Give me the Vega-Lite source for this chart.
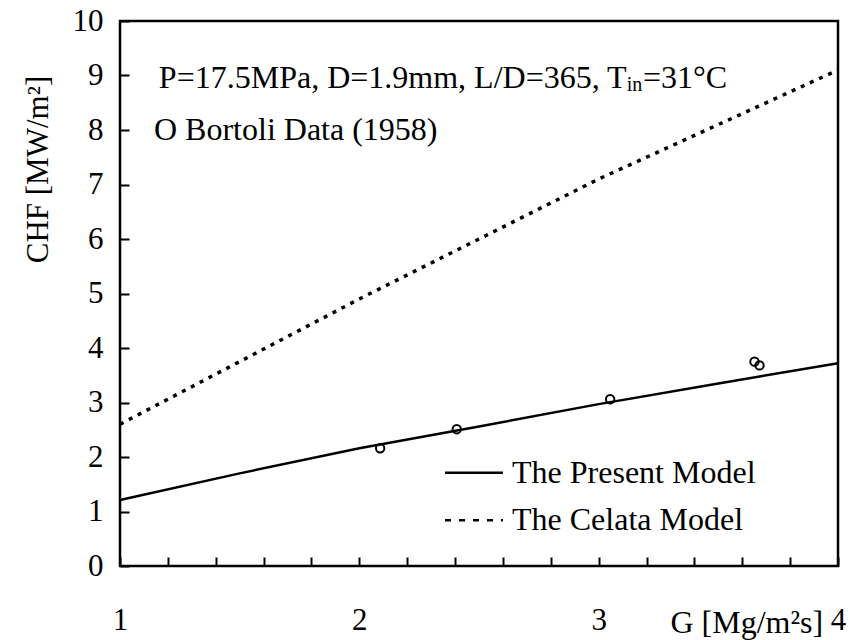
{
  "$schema": "https://vega.github.io/schema/vega-lite/v6.json",
  "width": 718,
  "height": 545,
  "autosize": {"type": "none"},
  "padding": {"left": 120, "top": 21, "right": 13, "bottom": 74},
  "background": "white",
  "config": {
    "view": {"stroke": "black", "strokeWidth": 2.5},
    "font": "Liberation Serif",
    "axis": {
      "grid": false,
      "domain": false,
      "tickColor": "black",
      "tickWidth": 2,
      "tickSize": -9,
      "labelColor": "black",
      "labelFont": "Liberation Serif",
      "labelFontSize": 31,
      "labelFontWeight": "normal",
      "titleColor": "black",
      "titleFont": "Liberation Serif",
      "titleFontSize": 31,
      "titleFontWeight": "normal"
    }
  },
  "datasets": {
    "present": [
      {"G": 1.0, "CHF": 1.21},
      {"G": 1.5, "CHF": 1.70},
      {"G": 2.0, "CHF": 2.16},
      {"G": 2.5, "CHF": 2.56},
      {"G": 3.0, "CHF": 2.97},
      {"G": 3.5, "CHF": 3.35},
      {"G": 4.0, "CHF": 3.72}
    ],
    "celata": [
      {"G": 1.0, "CHF": 2.60},
      {"G": 1.5, "CHF": 3.75},
      {"G": 2.0, "CHF": 4.90},
      {"G": 2.5, "CHF": 6.00},
      {"G": 3.0, "CHF": 7.10},
      {"G": 3.5, "CHF": 8.10},
      {"G": 4.0, "CHF": 9.10}
    ],
    "bortoli": [
      {"G": 2.087, "CHF": 2.16},
      {"G": 2.407, "CHF": 2.51},
      {"G": 3.048, "CHF": 3.06},
      {"G": 3.651, "CHF": 3.75},
      {"G": 3.672, "CHF": 3.68}
    ],
    "one": [{}]
  },
  "layer": [
    {
      "data": {"name": "celata"},
      "mark": {"type": "line", "color": "black", "strokeWidth": 3.5, "strokeDash": [4, 6], "clip": true},
      "encoding": {
        "x": {
          "field": "G", "type": "quantitative",
          "scale": {"domain": [1, 4], "nice": false, "zero": false},
          "axis": {
            "title": "G [Mg/m²s]",
            "values": [1, 1.2, 1.4, 1.6, 1.8, 2, 2.2, 2.4, 2.6, 2.8, 3, 3.2, 3.4, 3.6, 3.8, 4],
            "labelExpr": "abs(datum.value - round(datum.value)) < 0.001 ? format(datum.value, 'd') : ''",
            "labelFlush": false,
            "labelOverlap": false,
            "labelPadding": 63,
            "labelBaseline": "middle",
            "titleFontSize": 32,
            "titleX": 550,
            "titleY": 56,
            "titleAlign": "left",
            "titleBaseline": "middle"
          }
        },
        "y": {
          "field": "CHF", "type": "quantitative",
          "scale": {"domain": [0, 10], "nice": false},
          "axis": {
            "title": "CHF [MW/m²]",
            "values": [0, 1, 2, 3, 4, 5, 6, 7, 8, 9, 10],
            "labelPadding": 26,
            "titleX": -82,
            "titleY": 148,
            "titleAngle": 270,
            "titleAlign": "center",
            "titleBaseline": "middle"
          }
        }
      }
    },
    {
      "data": {"name": "present"},
      "mark": {"type": "line", "color": "black", "strokeWidth": 2.5},
      "encoding": {
        "x": {"field": "G", "type": "quantitative"},
        "y": {"field": "CHF", "type": "quantitative"}
      }
    },
    {
      "data": {"name": "bortoli"},
      "mark": {"type": "point", "shape": "circle", "filled": false, "color": "black", "strokeWidth": 2, "size": 70, "opacity": 1},
      "encoding": {
        "x": {"field": "G", "type": "quantitative"},
        "y": {"field": "CHF", "type": "quantitative"}
      }
    },
    {
      "data": {"name": "one"},
      "mark": {"type": "text", "text": "P=17.5MPa, D=1.9mm, L/D=365, T", "font": "Liberation Serif", "color": "black", "fontSize": 32, "align": "right", "baseline": "middle"},
      "encoding": {"x": {"datum": 3.117, "type": "quantitative"}, "y": {"datum": 8.95, "type": "quantitative"}}
    },
    {
      "data": {"name": "one"},
      "mark": {"type": "text", "text": "in", "font": "Liberation Serif", "color": "black", "fontSize": 20, "align": "left", "baseline": "middle", "dy": 7},
      "encoding": {"x": {"datum": 3.117, "type": "quantitative"}, "y": {"datum": 8.95, "type": "quantitative"}}
    },
    {
      "data": {"name": "one"},
      "mark": {"type": "text", "text": "=31°C", "font": "Liberation Serif", "color": "black", "fontSize": 32, "align": "left", "baseline": "middle"},
      "encoding": {"x": {"datum": 3.185, "type": "quantitative"}, "y": {"datum": 8.95, "type": "quantitative"}}
    },
    {
      "data": {"name": "one"},
      "mark": {"type": "text", "text": "O Bortoli Data (1958)", "font": "Liberation Serif", "color": "black", "fontSize": 32, "align": "left", "baseline": "middle"},
      "encoding": {"x": {"datum": 1.142, "type": "quantitative"}, "y": {"datum": 8.0, "type": "quantitative"}}
    },
    {
      "data": {"name": "one"},
      "mark": {"type": "rule", "color": "black", "strokeWidth": 2.5},
      "encoding": {"x": {"datum": 2.358, "type": "quantitative"}, "x2": {"datum": 2.6}, "y": {"datum": 1.71, "type": "quantitative"}}
    },
    {
      "data": {"name": "one"},
      "mark": {"type": "rule", "color": "black", "strokeWidth": 2.5, "strokeDash": [6, 8]},
      "encoding": {"x": {"datum": 2.358, "type": "quantitative"}, "x2": {"datum": 2.6}, "y": {"datum": 0.84, "type": "quantitative"}}
    },
    {
      "data": {"name": "one"},
      "mark": {"type": "text", "text": "The Present Model", "font": "Liberation Serif", "color": "black", "fontSize": 32, "align": "left", "baseline": "middle"},
      "encoding": {"x": {"datum": 2.638, "type": "quantitative"}, "y": {"datum": 1.71, "type": "quantitative"}}
    },
    {
      "data": {"name": "one"},
      "mark": {"type": "text", "text": "The Celata Model", "font": "Liberation Serif", "color": "black", "fontSize": 32, "align": "left", "baseline": "middle"},
      "encoding": {"x": {"datum": 2.638, "type": "quantitative"}, "y": {"datum": 0.84, "type": "quantitative"}}
    }
  ]
}
